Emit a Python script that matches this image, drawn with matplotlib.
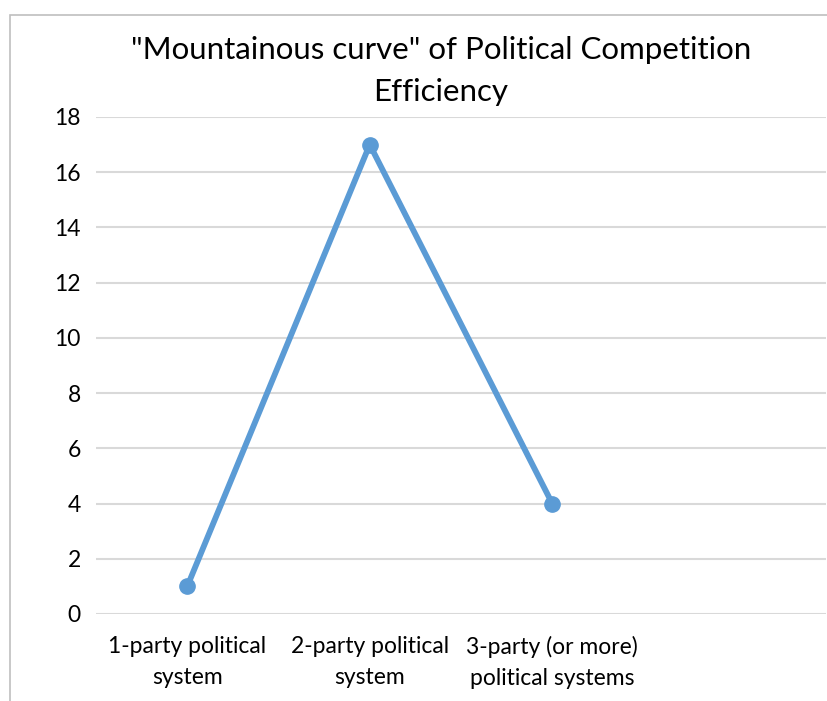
import numpy as np
import matplotlib.pyplot as plt
from matplotlib.patches import Rectangle

categories = ['1-party political\nsystem', '2-party political\nsystem',
              '3-party (or more)\npolitical systems', '']
values = [1, 17, 4]
yticks = [0, 2, 4, 6, 8, 10, 12, 14, 16, 18]

plt.rcParams['font.family'] = ['Lato', 'DejaVu Sans']

W, H = 828, 701
fig = plt.figure(figsize=(W / 100, H / 100), dpi=100)
ax = fig.add_axes([96 / W, 1 - 614 / H, (826 - 96) / W, (614 - 117) / H])

# chart frame (cut off at right/bottom like the screenshot)
fig.patches.append(Rectangle((10 / W, -0.1), 1.2, 1 - 15 / H + 0.1,
                             transform=fig.transFigure, fill=False,
                             edgecolor='#bfbfbf', linewidth=1.2))

x = np.arange(len(values))
ax.plot(x, values, color='#5b9bd5', linewidth=4.2, marker='o',
        markersize=11, solid_capstyle='round', zorder=3)

ax.set_xlim(-0.5, len(categories) - 0.5)
ax.set_ylim(0, 18)
ax.set_yticks(yticks)
ax.set_xticks(np.arange(len(categories)))
ax.set_xticklabels(categories, fontsize=16.5, linespacing=1.55)
ax.tick_params(axis='y', labelsize=16.5, length=0, pad=11)
ax.tick_params(axis='x', length=0, pad=16)
ax.grid(axis='y', color='#d9d9d9', linewidth=1.5)
ax.set_axisbelow(True)
for s in ax.spines.values():
    s.set_visible(False)

fig.text(441 / W, 1 - 50 / H, '"Mountainous curve" of Political Competition',
         ha='center', va='center', fontsize=22.5)
fig.text(441 / W, 1 - 92 / H, 'Efficiency', ha='center', va='center', fontsize=22.5)

plt.savefig('out.png', dpi=100)
plt.close()
